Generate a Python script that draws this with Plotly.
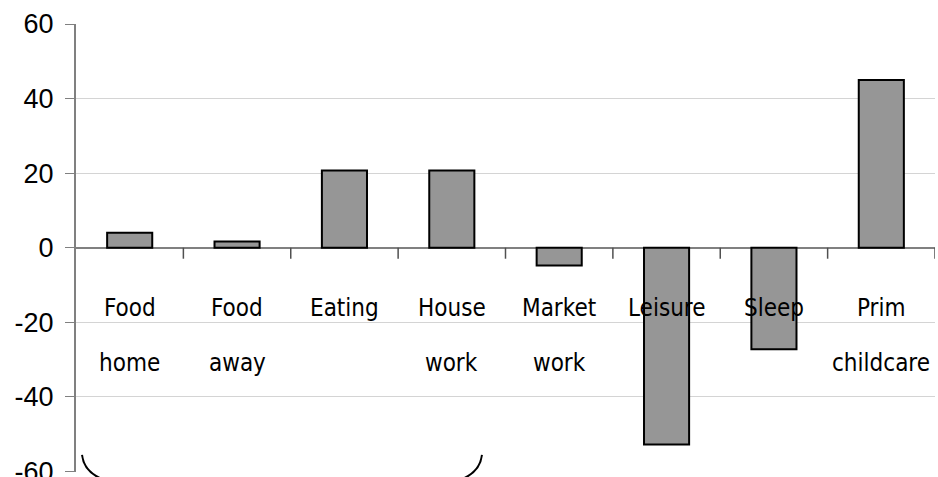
import plotly.graph_objects as go

# Change in minutes per day by activity
line1 = ["Food", "Food", "Eating", "House", "Market", "Leisure", "Sleep", "Prim"]
line2 = ["home", "away", "", "work", "work", "", "", "childcare"]
values = [4.0, 1.7, 20.7, 20.7, -4.8, -52.8, -27.2, 45.0]
y_ticks = [-60, -40, -20, 0, 20, 40, 60]

xs = list(range(len(values)))

fig = go.Figure()
fig.add_trace(go.Bar(
    x=xs, y=values, width=0.42,
    marker=dict(color="#969696", line=dict(color="#000000", width=2)),
    showlegend=False, hoverinfo="skip",
))

# tick marks on the zero line at the category boundaries
shapes = []
for i in xs:
    shapes.append(dict(
        type="line", xref="x", yref="y", ysizemode="pixel", yanchor=0,
        x0=i + 0.5, x1=i + 0.5, y0=0, y1=-11,
        line=dict(color="#505050", width=1.5),
    ))

# bracket grouping the first four activities
shapes.append(dict(type="path", xref="paper", yref="paper",
                   path="M 0.007,0.038 Q 0.0093,0.0 0.031,-0.016",
                   line=dict(color="#000000", width=2)))
shapes.append(dict(type="path", xref="paper", yref="paper",
                   path="M 0.4726,0.038 Q 0.4703,0.0 0.449,-0.016",
                   line=dict(color="#000000", width=2)))

label_font = dict(family="DejaVu Sans Condensed, sans-serif", size=24, color="#000000")
annotations = []
for i, (a, b) in enumerate(zip(line1, line2)):
    annotations.append(dict(x=i, y=-16.1, xref="x", yref="y", text=a, showarrow=False,
                            font=label_font, xanchor="center", yanchor="middle"))
    if b:
        annotations.append(dict(x=i, y=-30.8, xref="x", yref="y", text=b, showarrow=False,
                                font=label_font, xanchor="center", yanchor="middle"))

fig.update_layout(
    width=938, height=477,
    margin=dict(l=76, r=3, t=24, b=5, autoexpand=False),
    paper_bgcolor="#ffffff", plot_bgcolor="#ffffff",
    shapes=shapes, annotations=annotations,
    xaxis=dict(range=[-0.5, len(values) - 0.5], showticklabels=False, showgrid=False,
               zeroline=False, showline=False, ticks="", automargin=False),
    yaxis=dict(range=[-60.15, 60], tickvals=y_ticks, ticktext=[str(v) for v in y_ticks],
               showgrid=True, gridcolor="#d4d4d4", gridwidth=1,
               zeroline=True, zerolinecolor="#808080", zerolinewidth=2,
               showline=True, linecolor="#808080", linewidth=2,
               ticks="outside", ticklen=9, tickcolor="#808080", tickwidth=1,
               ticklabelstandoff=6, ticklabeloverflow="allow", automargin=False,
               tickfont=dict(family="Liberation Sans, Arial, sans-serif", size=27, color="#000000")),
)

fig.write_html("out.html")
